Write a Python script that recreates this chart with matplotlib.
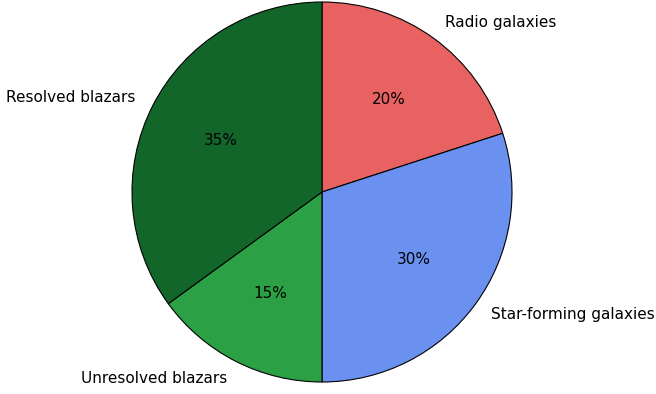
import matplotlib
matplotlib.use('Agg')
import matplotlib.pyplot as plt

labels = ["Radio galaxies", "Star-forming galaxies", "Unresolved blazars", "Resolved blazars"]
shares = [20, 30, 15, 35]
colors = ["#e86262", "#6b91f0", "#2ca044", "#12662a"]

fig = plt.figure(figsize=(6.56, 3.94), dpi=100)
# pie centred at ~(322, 192) px with radius ~190 px
r_px = 190
ax = fig.add_axes([(322 - r_px) / 656, (202 - r_px) / 394, 2 * r_px / 656, 2 * r_px / 394])

ax.pie(shares, labels=labels, colors=colors, autopct="%1.0f%%",
       startangle=90, counterclock=False,
       wedgeprops=dict(edgecolor="black", linewidth=0.8),
       textprops=dict(fontsize=11))
ax.set_xlim(-1, 1)
ax.set_ylim(-1, 1)
ax.set_aspect("equal")

fig.savefig("out.png", dpi=100)
